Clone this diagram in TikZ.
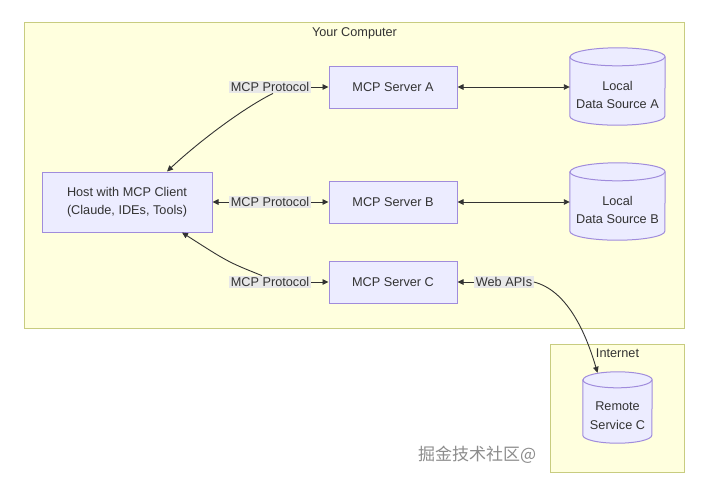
\documentclass[tikz,border=0pt]{standalone}
\usepackage{fontspec}
\setmainfont{Liberation Sans}
\newfontfamily\cjk{Noto Sans CJK SC}
\usetikzlibrary{arrows.meta,calc}
\definecolor{txt}{HTML}{333333}
\definecolor{clfill}{HTML}{FFFFDE}
\definecolor{cldraw}{HTML}{C8CC80}
\definecolor{ndfill}{HTML}{ECECFF}
\definecolor{nddraw}{HTML}{A08CDC}
\definecolor{lblbg}{HTML}{E8E8E8}
\pgfdeclarelayer{back}
\pgfdeclarelayer{mid}
\pgfsetlayers{back,mid,main}
\newcommand\drawcyl[3]{%
  \draw[cylline] ([yshift=-#3]#1.north west) -- ([yshift=#3]#1.south west)
    arc[start angle=180,end angle=360,x radius=#2,y radius=#3]
    -- ([yshift=-#3]#1.north east)
    arc[start angle=0,end angle=180,x radius=#2,y radius=#3] -- cycle;
  \draw[cylline,fill=none] ([yshift=-#3]#1.north west)
    arc[start angle=180,end angle=360,x radius=#2,y radius=#3];}
\begin{document}
\begin{tikzpicture}[x=1pt,y=-1pt,
  font=\fontsize{12.7}{18.5}\selectfont, text=txt,
  cluster/.style={draw=cldraw, fill=clfill, line width=1pt, anchor=north west, inner sep=0pt},
  box/.style={draw=nddraw, fill=ndfill, line width=1pt, align=center, inner sep=0pt,
    minimum width=128pt, minimum height=42pt},
  cylnode/.style={inner sep=0pt},
  cylline/.style={draw=nddraw, fill=ndfill, line width=1pt},
  elabel/.style={fill=lblbg, inner sep=1.5pt},
  conn/.style={draw=txt, line width=0.9pt},
  tip/.tip={Triangle[length=6pt,width=5.5pt]}]
\useasboundingbox (0,0) rectangle (706,483);
% clusters
\begin{pgfonlayer}{back}
\fill[white] (0,0) rectangle (706,483);
\node[cluster, minimum width=660pt, minimum height=306pt] (yc) at (24,22) {};
\node[cluster, minimum width=134pt, minimum height=128pt] (inet) at (550,344) {};
\end{pgfonlayer}
\node[anchor=north, inner sep=5pt] (yct) at (yc.north) {Your Computer};
\node[anchor=north, inner sep=5pt] (inett) at (inet.north) {Internet};
% main nodes
\node[box, minimum width=170pt, minimum height=60pt] (host) at (127,202) {Host with MCP Client\\(Claude, IDEs, Tools)};
\node[box] (sA) at (393,87) {MCP Server A};
\node[box] (sB) at (393,202) {MCP Server B};
\node[box] (sC) at (393,282) {MCP Server C};
% cylinders
\node[cylnode, minimum width=95pt, minimum height=77pt,
  label={[align=center, yshift=-8.5pt]center:Local\\Data Source A}] (cA) at (617.5,86.5) {};
\node[cylnode, minimum width=95pt, minimum height=77pt,
  label={[align=center, yshift=-8.5pt]center:Local\\Data Source B}] (cB) at (617.5,201.5) {};
\node[cylnode, minimum width=69pt, minimum height=71pt,
  label={[align=center, yshift=-8pt]center:Remote\\Service C}] (cC) at (617.5,407.5) {};
\begin{pgfonlayer}{mid}
\drawcyl{cA}{47.5pt}{9pt}
\drawcyl{cB}{47.5pt}{9pt}
\drawcyl{cC}{34.5pt}{8pt}
\end{pgfonlayer}
% edge labels
\node[elabel] (lA) at (270,87) {MCP Protocol};
\node[elabel] (lB) at (270,202) {MCP Protocol};
\node[elabel] (lC) at (270,282) {MCP Protocol};
\node[elabel] (lW) at (504,282) {Web APIs};
% connectors
\draw[conn,-tip] (lA) -- (sA);
\draw[conn,-tip] ([xshift=3pt]lA.south) .. controls (240,110) and (195,145) .. ([xshift=40pt]host.north);
\draw[conn,-tip] (lB) -- (host);
\draw[conn,-tip] (lB) -- (sB);
\draw[conn,-tip] (lC) -- (sC);
\draw[conn,-tip] ([xshift=-8pt]lC.north) .. controls (228,262) .. ([xshift=55pt]host.south);
\draw[conn,tip-tip] (sA) -- (sA -| cA.west);
\draw[conn,tip-tip] (sB) -- (sB -| cB.west);
\draw[conn,-tip] (lW) -- (sC);
\draw[conn,-tip] (lW.east) .. controls (566,290) and (585,330) .. ([xshift=-20pt,yshift=-1pt]cC.north);
% watermark
\node[anchor=west, text=black!45, font=\cjk\fontsize{17}{17}\selectfont, inner sep=0pt] (wm) at (418,455) {掘金技术社区@};
\end{tikzpicture}
\end{document}
